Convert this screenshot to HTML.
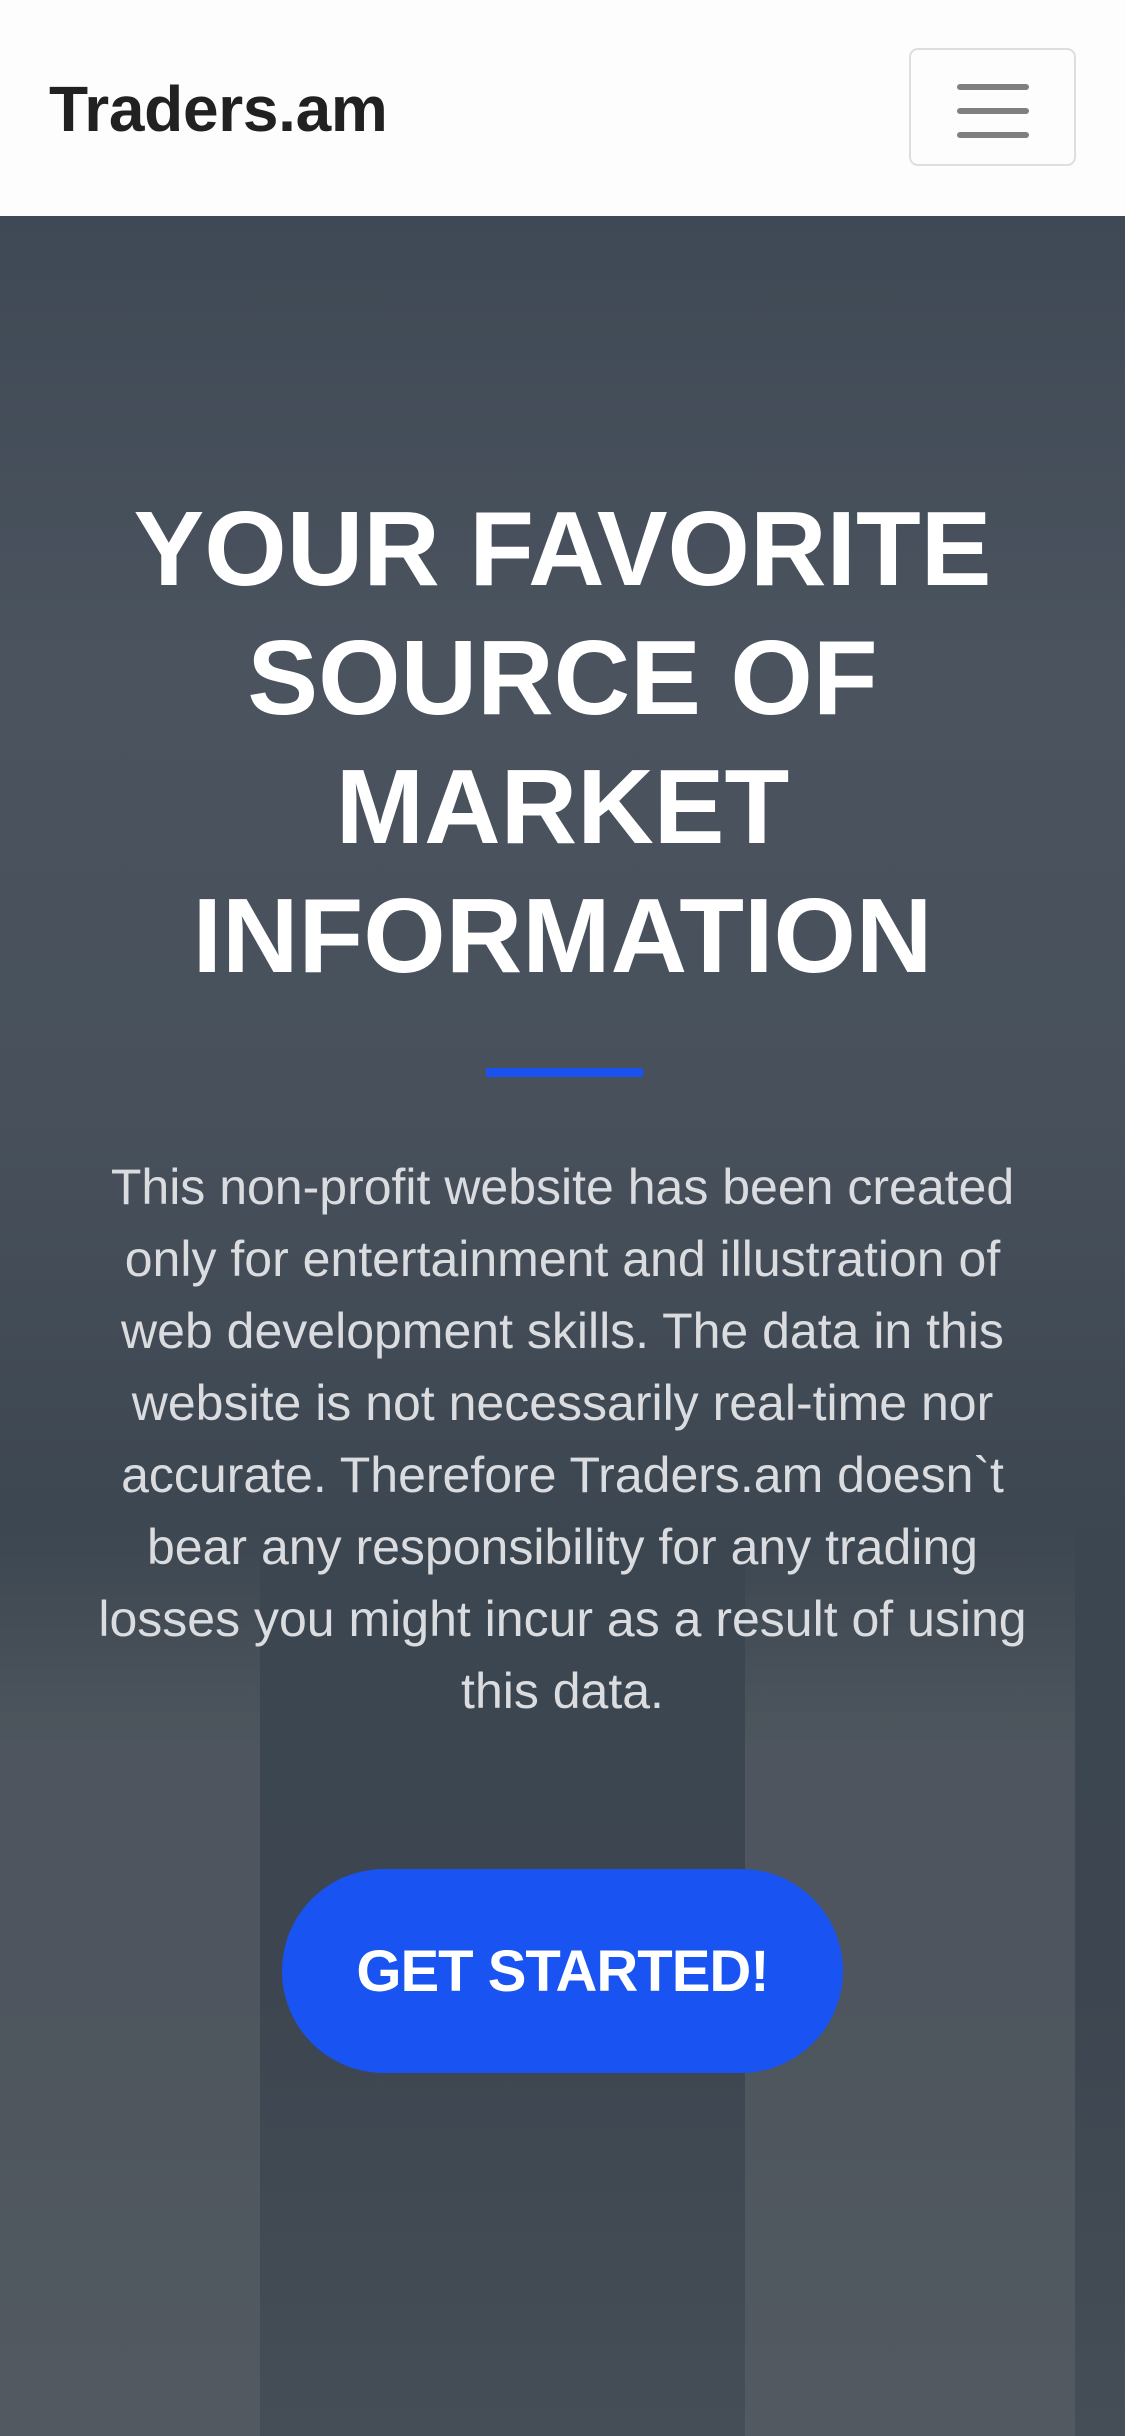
<!DOCTYPE html>
<html><head><meta charset="utf-8">
<style>
html,body{margin:0;padding:0;width:1125px;height:2436px;overflow:hidden;font-family:"Liberation Sans",sans-serif;}
#nav{position:absolute;left:0;top:0;width:1125px;height:216px;background:#fdfdfd;}
#brand{position:absolute;left:49px;top:77px;font-size:64px;line-height:1;font-weight:bold;color:#212121;letter-spacing:-0.3px;}
#toggler{position:absolute;left:909px;top:48px;width:167px;height:118px;border:2px solid #dedede;border-radius:9px;box-sizing:border-box;}
#toggler i{position:absolute;left:46px;width:72px;height:6px;border-radius:3px;background:#808080;}
#hero{position:absolute;left:0;top:216px;width:1125px;height:2220px;overflow:hidden;
background:linear-gradient(180deg,#3f4955 0%,#4a535e 20%,#48515b 40%,#3c4650 60%,#3d4650 80%,#454d56 100%);}
.col{position:absolute;opacity:.45;background:linear-gradient(180deg,rgba(100,106,112,0) 0%,#62686e 25%,#62686e 100%);}
h1{position:absolute;left:0;top:269px;width:1125px;margin:0;text-align:center;color:#fff;font-size:106px;line-height:129px;font-weight:bold;}
#bar{position:absolute;left:486px;top:852px;width:157px;height:9px;background:#1a52f0;}
p{position:absolute;left:20px;top:935px;width:1085px;margin:0;text-align:center;color:#dadcdf;font-size:50px;line-height:72px;}
#btn{position:absolute;left:282px;top:1653px;width:561px;height:204px;border-radius:102px;background:#1953f2;color:#fff;display:flex;align-items:center;justify-content:center;font-weight:bold;font-size:58px;letter-spacing:-1px;}
</style></head><body>
<div id="nav">
  <div id="brand">Traders.am</div>
  <div id="toggler">
    <i style="top:34px"></i>
    <i style="top:58px"></i>
    <i style="top:82px"></i>
  </div>
</div>
<div id="hero">
  <div class="col" style="left:0;top:1300px;width:260px;height:920px"></div>
  <div class="col" style="left:745px;top:1300px;width:330px;height:920px"></div>
  <h1>YOUR FAVORITE<br>SOURCE OF<br>MARKET<br>INFORMATION</h1>
  <div id="bar"></div>
  <p>This non-profit website has been created<br>only for entertainment and illustration of<br>web development skills. The data in this<br>website is not necessarily real-time nor<br>accurate. Therefore Traders.am doesn`t<br>bear any responsibility for any trading<br>losses you might incur as a result of using<br>this data.</p>
  <div id="btn">GET STARTED!</div>
</div>
</body></html>
